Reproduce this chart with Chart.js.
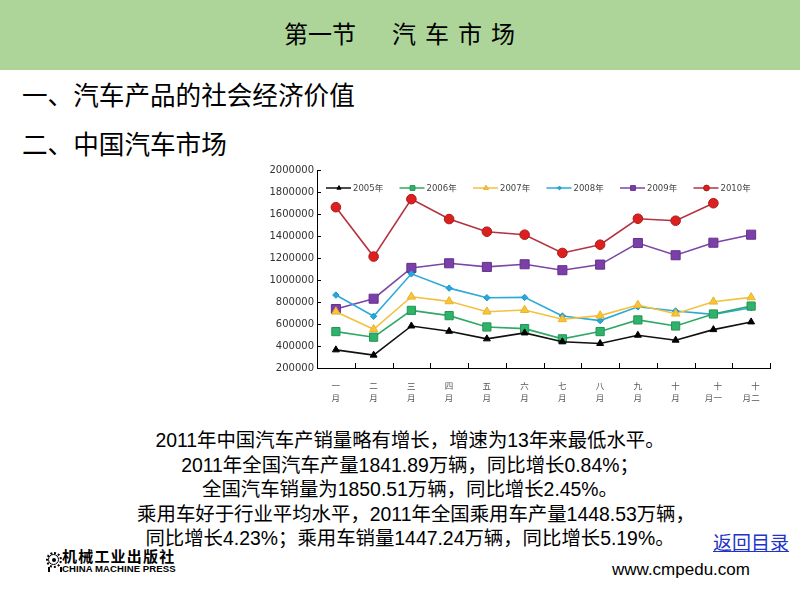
<!DOCTYPE html>
<html>
<head>
<meta charset="utf-8">
<script src="https://cdn.jsdelivr.net/npm/chart.js@4/dist/chart.umd.min.js"></script>
<style>
  html, body { margin: 0; padding: 0; background: #fff; }
  body { width: 800px; height: 597px; position: relative; overflow: hidden;
         font-family: "Liberation Sans", "Noto Sans CJK SC", sans-serif; }
  .band { position: absolute; left: 0; top: 0; width: 800px; height: 70px; background: #ADD59A; }
  .title { position: absolute; top: 17px; left: 284px; font-size: 24px; line-height: 32px; color: #000;
           font-family: "Noto Sans CJK SC", sans-serif; white-space: pre; }
  .h2 { position: absolute; left: 22px; font-size: 25.6px; line-height: 32px; color: #000;
        font-family: "Noto Sans CJK SC", sans-serif; white-space: nowrap; }
  #wrap { position: absolute; left: 250px; top: 150px; width: 540px; height: 270px; }
  .body { position: absolute; left: 60px; width: 700px; top: 428px; text-align: center;
          font-size: 19.4px; line-height: 24.5px; color: #000;
          font-family: "Liberation Sans", "Noto Sans CJK SC", sans-serif; }
  .back { position: absolute; left: 713px; top: 529px; font-size: 19px; line-height: 26px; color: #2233CC;
          text-decoration: underline; font-family: "Noto Sans CJK SC", sans-serif; }
  .url { position: absolute; left: 612px; top: 560px; font-size: 17px; line-height: 20px; color: #000; }
  .logo { position: absolute; left: 45px; top: 549px; width: 140px; height: 28px; }
  .logo .cn { position: absolute; left: 17px; top: -2px; font-size: 15px; font-weight: bold; line-height: 17px;
              font-family: "Noto Sans CJK SC", sans-serif; letter-spacing: 1.2px; }
  .logo .en { position: absolute; left: 17px; top: 14px; font-size: 9.6px; font-weight: bold; line-height: 11px;
              font-family: "Liberation Sans", sans-serif; letter-spacing: 0.05px; }
  .logo .gear { position: absolute; left: 1px; top: 3px; width: 12px; height: 12px; border: 2px dotted #000; border-radius: 50%; }
  .logo .gear::before { content: ""; position: absolute; left: 0px; top: 0px; width: 9px; height: 9px; border: 1.5px solid #000; border-radius: 50%; }
  .logo .gear::after { content: ""; position: absolute; left: 4px; top: 4px; width: 4px; height: 4px; background: #000; border-radius: 50%; }
  .logo .stand { position: absolute; left: 3px; top: 18px; width: 10px; height: 5px; border-left: 2px solid #000; border-right: 2px solid #000; }
</style>
</head>
<body>
<div class="band"></div>
<div class="title">第一节<span style="display:inline-block;width:36px"></span><span style="letter-spacing:9px">汽车市场</span></div>
<div class="h2" style="top:78px">一、汽车产品的社会经济价值</div>
<div class="h2" style="top:127px">二、中国汽车市场</div>
<div id="wrap"><canvas id="c" width="540" height="270"></canvas></div>
<div class="body">
  2011年中国汽车产销量略有增长，增速为13年来最低水平。<br>
  2011年全国汽车产量1841.89万辆，同比增长0.84%；<br>
  全国汽车销量为1850.51万辆，同比增长2.45%。<br>
  <span style="position:relative;left:6px">乘用车好于行业平均水平，2011年全国乘用车产量1448.53万辆，</span><br>
  同比增长4.23%；乘用车销量1447.24万辆，同比增长5.19%。
</div>
<div class="back">返回目录</div>
<div class="logo"><div class="gear"></div><div class="stand"></div><div class="cn">机械工业出版社</div><div class="en">CHINA MACHINE PRESS</div></div>
<div class="url">www.cmpedu.com</div>

<script>
// ---- data ----
const monthLabels = [['一','月'],['二','月'],['三','月'],['四','月'],['五','月'],['六','月'],
                     ['七','月'],['八','月'],['九','月'],['十','月'],['\u3000十','月一'],['\u3000十','月二']];
const seriesNames = ['2005年','2006年','2007年','2008年','2009年','2010年'];
const sales2005 = [365000, 317000, 582000, 534000, 465000, 519000, 438000, 423000, 498000, 453000, 549000, 619000];
const sales2006 = [531000, 480000, 724000, 676000, 573000, 558000, 465000, 531000, 637000, 582000, 691000, 763000];
const sales2007 = [712000, 552000, 848000, 806000, 712000, 727000, 643000, 676000, 772000, 694000, 803000, 842000];
const sales2008 = [863000, 670000, 1056000, 926000, 839000, 842000, 673000, 631000, 757000, 718000, 688000, 748000];
const sales2009 = [736000, 830000, 1110000, 1152000, 1119000, 1143000, 1089000, 1140000, 1336000, 1225000, 1339000, 1412000];
const sales2010 = [1662000, 1213000, 1735000, 1554000, 1439000, 1412000, 1246000, 1321000, 1557000, 1539000, 1698000];
const yTickMin = 200000, yTickMax = 2000000, yTickStep = 200000;

// ---- styles ----
const styles = [
  { line: '#111111', fill: '#000000', border: '#000000', point: 'triangle', r: 4 },
  { line: '#2FA866', fill: '#2FB36A', border: '#239656', point: 'rect', r: 5.8 },
  { line: '#F3C13E', fill: '#F8C53A', border: '#E8B22A', point: 'triangle', r: 4.8 },
  { line: '#2AAAD8', fill: '#26A8DA', border: '#1E96C8', point: 'rectRot', r: 3.2 },
  { line: '#7A46A6', fill: '#7B3FA8', border: '#64308E', point: 'rect', r: 6.4 },
  { line: '#B53240', fill: '#DD1F1F', border: '#A81A1A', point: 'circle', r: 4.8 }
];
const allData = [sales2005, sales2006, sales2007, sales2008, sales2009, sales2010];

const datasets = allData.map((d, i) => ({
  label: seriesNames[i],
  data: d,
  borderColor: styles[i].line,
  borderWidth: 1.6,
  backgroundColor: styles[i].fill,
  pointStyle: styles[i].point,
  pointRadius: styles[i].r,
  pointBackgroundColor: styles[i].fill,
  pointBorderColor: styles[i].border,
  pointBorderWidth: 1,
  tension: 0,
  fill: false
}));

// inner tick marks on both axes
const innerTicks = {
  id: 'innerTicks',
  afterDraw(chart) {
    const { ctx, chartArea, scales: { x, y } } = chart;
    ctx.save();
    ctx.strokeStyle = '#000';
    ctx.lineWidth = 1;
    ctx.beginPath();
    y.ticks.forEach((t, i) => {
      const py = Math.round(y.getPixelForTick(i)) + 0.5;
      ctx.moveTo(chartArea.left, py); ctx.lineTo(chartArea.left + 4, py);
    });
    const n = x.ticks.length;
    for (let i = 1; i <= n; i++) {
      let px;
      if (i === n) px = chartArea.right;
      else px = (x.getPixelForTick(i - 1) + x.getPixelForTick(i)) / 2;
      px = Math.round(px) + 0.5;
      ctx.moveTo(px, chartArea.bottom); ctx.lineTo(px, chartArea.bottom - 5);
    }
    ctx.stroke();
    ctx.restore();
  }
};

// legend drawn as line + small marker + label, in one row inside the plot
const lineLegend = {
  id: 'lineLegend',
  afterDraw(chart) {
    const { ctx, chartArea } = chart;
    const startX = chartArea.left + 9;
    const step = 73.5;
    const cy = chartArea.top + 18;
    ctx.save();
    ctx.font = '8.5px "DejaVu Sans", "Noto Sans CJK SC", sans-serif';
    ctx.textBaseline = 'middle';
    ctx.textAlign = 'left';
    chart.data.datasets.forEach((ds, i) => {
      const st = styles[i];
      const x0 = startX + i * step;
      ctx.strokeStyle = st.line;
      ctx.lineWidth = 1.5;
      ctx.beginPath(); ctx.moveTo(x0, cy); ctx.lineTo(x0 + 25, cy); ctx.stroke();
      ctx.fillStyle = st.fill;
      ctx.strokeStyle = st.border;
      ctx.lineWidth = 1;
      Chart.helpers.drawPoint(ctx, { pointStyle: st.point, radius: Math.min(st.r * 0.6, 3.4), rotation: 0, borderWidth: 1 }, x0 + 13, cy);
      ctx.fillStyle = '#444';
      ctx.fillText(ds.label, x0 + 27, cy + 0.5);
    });
    ctx.restore();
  }
};

new Chart(document.getElementById('c'), {
  type: 'line',
  data: { labels: monthLabels, datasets },
  plugins: [innerTicks, lineLegend],
  options: {
    responsive: false,
    animation: false,
    layout: { padding: { left: 0, top: 20, right: 20, bottom: 0 } },
    plugins: {
      tooltip: { enabled: false },
      legend: { display: false }
    },
    scales: {
      x: {
        offset: true,
        grid: { display: false, drawOnChartArea: false, drawTicks: false },
        border: { display: true, color: '#000', width: 1 },
        ticks: {
          padding: 11,
          color: '#555',
          maxRotation: 0,
          autoSkip: false,
          font: { family: '"Noto Sans CJK SC", sans-serif', size: 8.5, lineHeight: 1.5 }
        },
        afterFit(scale) { scale.height = 52; }
      },
      y: {
        min: yTickMin,
        max: yTickMax,
        grid: { display: false, drawOnChartArea: false, drawTicks: false },
        border: { display: true, color: '#000', width: 1 },
        ticks: {
          stepSize: yTickStep,
          padding: 3,
          color: '#333',
          font: { family: '"DejaVu Sans", sans-serif', size: 10 },
          callback: v => String(v)
        },
        afterFit(scale) { scale.width = 67; }
      }
    }
  }
});
</script>
</body>
</html>
